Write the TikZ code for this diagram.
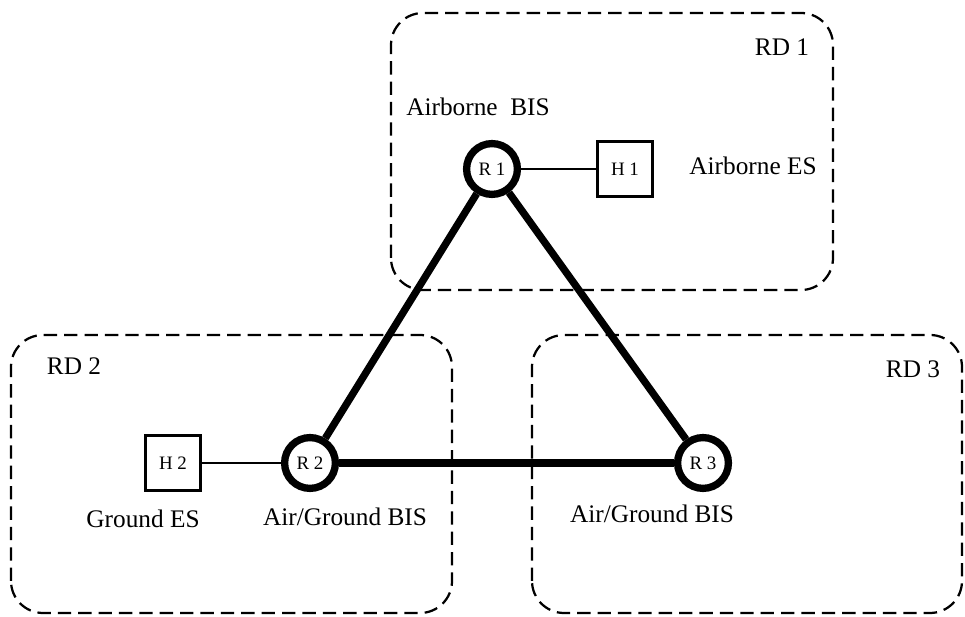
\documentclass[tikz,border=0pt]{standalone}
\usepackage{fontspec}
\setmainfont{Liberation Serif}
\usepackage{tikz}

\begin{document}
\begin{tikzpicture}
    \tikzstyle{all nodes}=[inner sep=0pt]
    \tikzstyle{router}=[circle,draw,line width=5.2pt,minimum size=1.27cm,font=\fontsize{13.5}{15}\selectfont]
    \tikzstyle{host}=[rectangle,draw,line width=1.8pt,minimum size=1.37cm,font=\fontsize{13.5}{15}\selectfont]
    \tikzstyle{txt}=[font=\fontsize{18}{21}\selectfont]
    \tikzstyle{rdbox}=[line width=1.6pt,dash pattern=on 9.5pt off 5pt,rounded corners=0.8cm]
    \useasboundingbox (0,0) rectangle (24.125,15.425);
    % routing domains
    \draw[rdbox] (9.775,8.175) rectangle (20.825,15.1);
    \draw[rdbox] (0.275,0.1) rectangle (11.3,7.05);
    \draw[rdbox] (13.3,0.1) rectangle (24.05,7.05);
    \draw node(r1)[router]at(12.3,11.2){R 1}
          node(h1)[host]at(15.625,11.2){H 1}
          node(r2)[router]at(7.75,3.85){R 2}
          node(h2)[host]at(4.325,3.85){H 2}
          node(r3)[router]at(17.575,3.85){R 3};
    \draw node(rd1)[txt]at(19.55,14.25){RD 1}
          node(rd2)[txt]at(1.85,6.275){RD 2}
          node(rd3)[txt]at(22.825,6.2){RD 3}
          node(abis)[txt]at(11.95,12.75){Airborne~ BIS}
          node(aes)[txt]at(18.825,11.275){Airborne ES}
          node(ges)[txt]at(3.575,2.45){Ground ES}
          node(agbis2)[txt]at(8.625,2.5){Air/Ground BIS}
          node(agbis3)[txt]at(16.3,2.575){Air/Ground BIS};
    \draw[-,line width=5.2pt](r1)--(r2);
    \draw[-,line width=5.2pt](r1)--(r3);
    \draw[-,line width=5.2pt](r2)--(r3);
    \draw[-,line width=1.2pt](r1)--(h1);
    \draw[-,line width=1.2pt](h2)--(r2);
\end{tikzpicture}
\end{document}
